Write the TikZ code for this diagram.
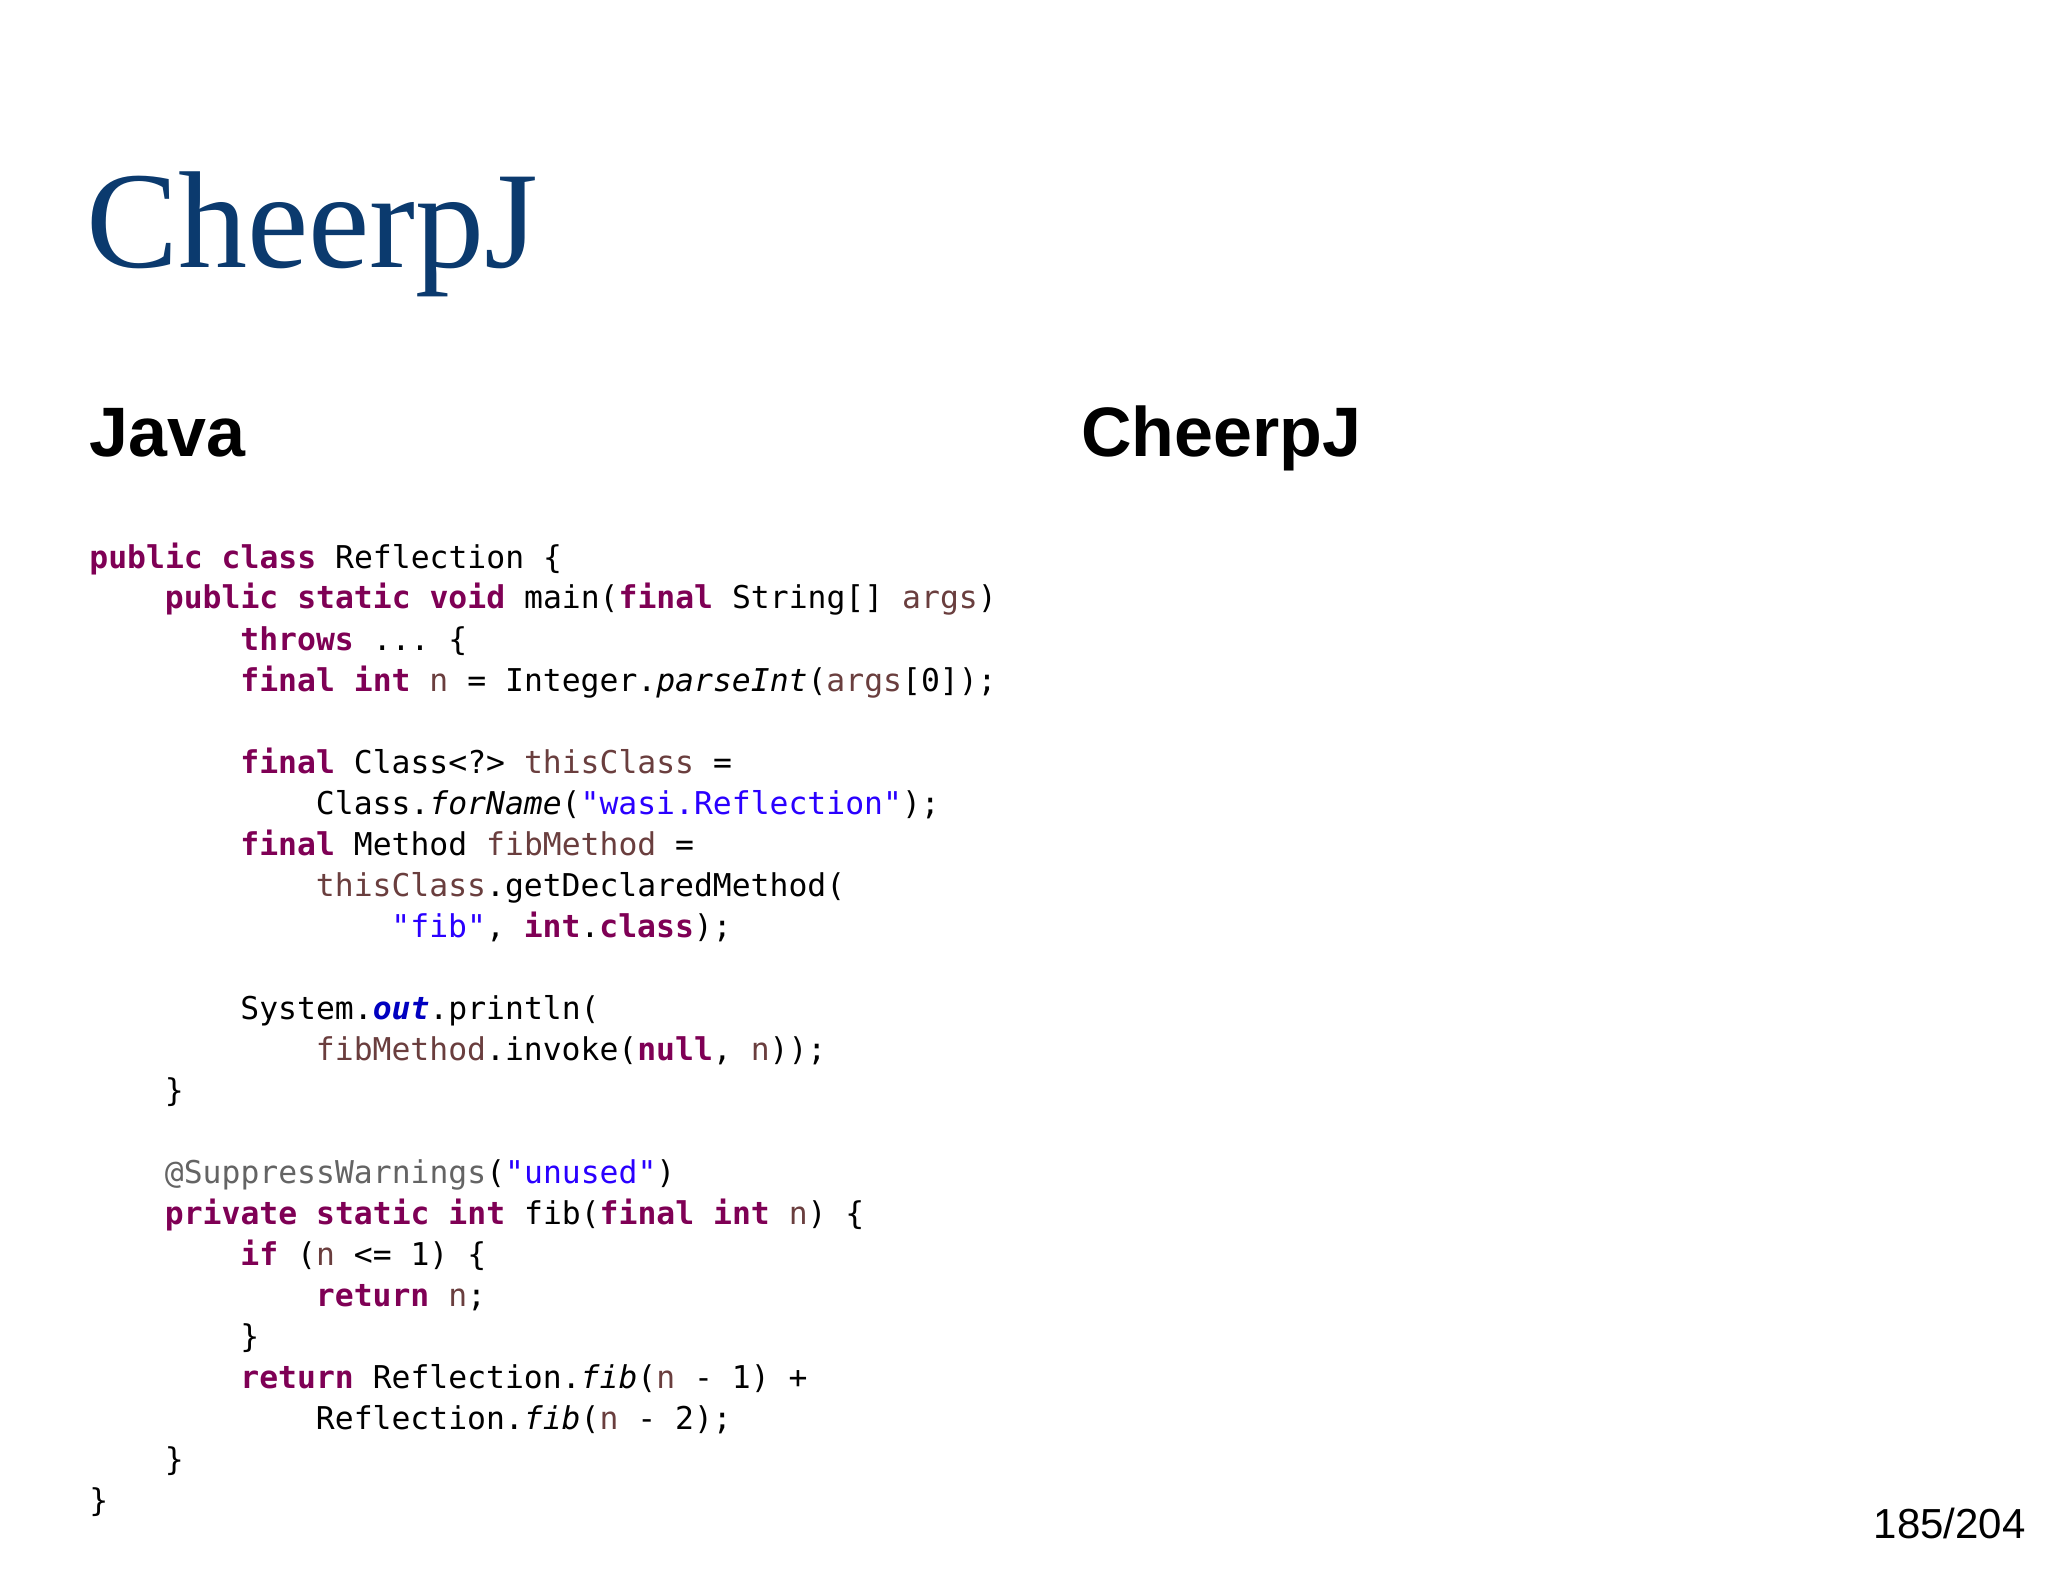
\documentclass[tikz,border=0pt]{standalone}
\usepackage{fontspec}
\setmainfont{Liberation Serif}
\setsansfont{Liberation Sans}
\setmonofont{DejaVu Sans Mono}
\definecolor{kwc}{HTML}{7F0055}
\definecolor{vac}{HTML}{6A3E3E}
\definecolor{stc}{HTML}{2A00FF}
\definecolor{anc}{HTML}{646464}
\definecolor{fic}{HTML}{0000C0}
\definecolor{titc}{HTML}{0B3A6E}
\newcommand{\kw}[1]{\textcolor{kwc}{\bfseries #1}}
\newcommand{\va}[1]{\textcolor{vac}{#1}}
\newcommand{\stt}[1]{\textcolor{stc}{#1}}
\newcommand{\itm}[1]{\textit{#1}}
\begin{document}
\begin{tikzpicture}[x=1pt,y=1pt,
  code/.style={anchor=base west,inner sep=0pt,font=\ttfamily\fontsize{15.7}{18}\selectfont},
  head/.style={anchor=base west,inner sep=0pt,font=\sffamily\bfseries\fontsize{35}{40}\selectfont}]
\useasboundingbox (0,0) rectangle (1024,-791);
\fill[white] (0,0) rectangle (1024,-791);
\node[anchor=base west,inner sep=0pt,text=titc,font=\fontsize{69}{75}\selectfont] (title) at (43,-134) {CheerpJ};
\node[head] (hjava) at (44.5,-228.5) {Java};
\node[head] (hcj) at (540.5,-228.5) {CheerpJ};
\def\L#1#2#3{\node[code] (l#1) at ({44.5+#2*9.44},{-284-#1*20.5}) {#3};}
\L{0}{0}{\kw{public} \kw{class} Reflection \{}
\L{1}{4}{\kw{public} \kw{static} \kw{void} main(\kw{final} String[] \va{args})}
\L{2}{8}{\kw{throws} ... \{}
\L{3}{8}{\kw{final} \kw{int} \va{n} = Integer.\itm{parseInt}(\va{args}[0]);}
\L{5}{8}{\kw{final} Class<?> \va{thisClass} =}
\L{6}{12}{Class.\itm{forName}(\stt{"wasi.Reflection"});}
\L{7}{8}{\kw{final} Method \va{fibMethod} =}
\L{8}{12}{\va{thisClass}.getDeclaredMethod(}
\L{9}{16}{\stt{"fib"}, \kw{int}.\kw{class});}
\L{11}{8}{System.\textcolor{fic}{\bfseries\itshape out}.println(}
\L{12}{12}{\va{fibMethod}.invoke(\kw{null}, \va{n}));}
\L{13}{4}{\}}
\L{15}{4}{\textcolor{anc}{@SuppressWarnings}(\stt{"unused"})}
\L{16}{4}{\kw{private} \kw{static} \kw{int} fib(\kw{final} \kw{int} \va{n}) \{}
\L{17}{8}{\kw{if} (\va{n} <= 1) \{}
\L{18}{12}{\kw{return} \va{n};}
\L{19}{8}{\}}
\L{20}{8}{\kw{return} Reflection.\itm{fib}(\va{n} - 1) +}
\L{21}{12}{Reflection.\itm{fib}(\va{n} - 2);}
\L{22}{4}{\}}
\L{23}{0}{\}}
\node[anchor=base east,inner sep=0pt,font=\sffamily\fontsize{21}{24}\selectfont] (pg) at (1013,-769) {185/204};
\end{tikzpicture}
\end{document}
